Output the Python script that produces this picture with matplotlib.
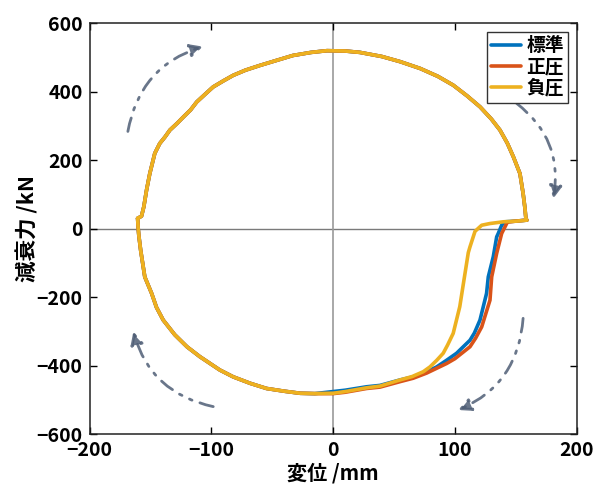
import matplotlib
matplotlib.use("Agg")
from matplotlib import pyplot as plt
import numpy as np

# upper branch shared by all three cases (left -> right)
top_x = [-160.5, -157.3, -155.4, -153.2, -150.5, -146.4, -142.3, -138, -134, -128, -123,
         -117, -112, -105, -98.5, -90, -82, -72, -60, -47, -33, -18, -5, 10, 22, 40, 55,
         71.5, 86, 98.7, 110, 120.6, 130, 137, 143, 148, 153.4, 156, 157.5, 158.4, 159.2]
top_y = [30, 36.5, 64, 112, 161, 220, 249, 268, 288, 308, 326,
         347, 370, 393, 414, 432, 448, 463, 477, 491, 506, 515, 520, 519, 515, 503, 488,
         468, 445, 419, 388, 356, 320, 288, 250, 210, 161, 103, 60, 25, 25]

# return branch, differs per case (right corner -> bottom centre)
ret_x_std = [159.2, 150, 141, 138.4, 135.6, 134.3, 131.5, 127.4, 126, 120.6, 116, 112.4,
             101.4, 93, 85, 76.8, 65.8, 55, 38.5, 27.5, 10, 0]
ret_y_std = [25, 22, 20, 10, -14, -24, -82, -141, -189, -267, -305, -326,
             -364, -385, -404, -418, -433, -442, -458, -462, -472, -476]
ret_x_pos = [159.2, 150, 143, 142.5, 138.4, 134.3, 130.2, 128.8, 122, 117, 112.4,
             100, 93.2, 85, 76.8, 65.8, 55, 38.5, 27.5, 10, 0]
ret_y_pos = [25, 22, 19, 15, -14, -72, -141, -209, -287, -320, -345,
             -380, -394, -408, -422, -437, -447, -463, -467, -478, -482]
ret_x_neg = [159.2, 150.7, 139.7, 128.8, 122, 119.2, 116.5, 112.4, 111, 107, 104, 98.6,
             94, 90.4, 85, 79.5, 74, 65, 55, 38.5, 27.5, 10, 0]
ret_y_neg = [25, 22, 20, 15, 10, 1, -8, -53, -70, -160, -228, -306,
             -340, -364, -385, -404, -418, -432, -442, -460, -465, -476, -481]

# lower branch shared (bottom centre -> left start)
bot_x = [-15, -27, -40, -54.6, -68, -82, -93, -109.4, -120, -130, -139.5, -145, -149,
         -154.6, -158, -159.5, -160, -160.5]
bot_y = [-482, -481, -475, -467, -452, -433, -413, -374, -345, -310, -267, -230, -189,
         -141, -63, -20, 0, 30]

labels = ['標準', '正圧', '負圧']
colors = ['#0072BD', '#D95319', '#EDB120']

# direction arrows (start, end) in data units
arrows = [((-168.5, 284), (-107, 532)),
          ((150.7, 366), (180.8, 88)),
          ((156, -262), (102.8, -530)),
          ((-98.4, -520), (-164, -301))]

jp = ['Noto Sans CJK JP', 'DejaVu Sans']
plt.rcParams['font.family'] = jp

fig = plt.figure(figsize=(6.02, 4.87), dpi=100)
ax = fig.add_axes([89.5/602, 1-434/487, (576.7-89.5)/602, (434-23.3)/487])

ax.axhline(0, color='#7a7a7a', lw=1, zorder=1)
ax.axvline(0, color='#9a9a9a', lw=1.2, zorder=1)

rets = [(ret_x_std, ret_y_std), (ret_x_pos, ret_y_pos), (ret_x_neg, ret_y_neg)]
for (rx, ry), lab, col in zip(rets, labels, colors):
    xs = np.concatenate([top_x, rx, bot_x])
    ys = np.concatenate([top_y, ry, bot_y])
    ax.plot(xs, ys, color=col, lw=2.6, label=lab, solid_joinstyle='round',
            solid_capstyle='round', zorder=3)

for (x0, y0), (x1, y1) in arrows:
    ax.annotate('', xy=(x1, y1), xytext=(x0, y0),
                arrowprops=dict(arrowstyle='-|>,head_length=0.75,head_width=0.38',
                                connectionstyle='arc3,rad=-0.3', color='#4f5e76',
                                lw=2, linestyle=(0, (5, 3, 1, 3, 1, 3)),
                                shrinkA=0, shrinkB=0, alpha=0.85))

ax.set_xlim(-200, 200)
ax.set_ylim(-600, 600)
ax.set_xticks([-200, -100, 0, 100, 200])
ax.set_yticks([-600, -400, -200, 0, 200, 400, 600])
ax.tick_params(direction='in', top=True, right=True, length=5, width=1, pad=5,
               labelsize=14)
for lbl in ax.get_xticklabels() + ax.get_yticklabels():
    lbl.set_fontweight('bold')
for s in ax.spines.values():
    s.set_linewidth(1.1)
    s.set_color('#222222')

ax.set_xlabel('変位 /mm', fontsize=14.5, fontweight='bold')
ax.set_ylabel('減衰力 /kN', fontsize=15.5, fontweight='bold')
ax.xaxis.set_label_coords(0.5, -0.07)
ax.yaxis.set_label_coords(-0.105, 0.5)

leg = ax.legend(loc='upper right', prop={'size': 13.5, 'weight': 'bold'},
                fancybox=False, edgecolor='#333333', framealpha=1,
                handlelength=1.6, handletextpad=0.25, labelspacing=0.12,
                borderpad=0.25, borderaxespad=0.45)
leg.get_frame().set_linewidth(1)

fig.savefig('out.png', dpi=100)
